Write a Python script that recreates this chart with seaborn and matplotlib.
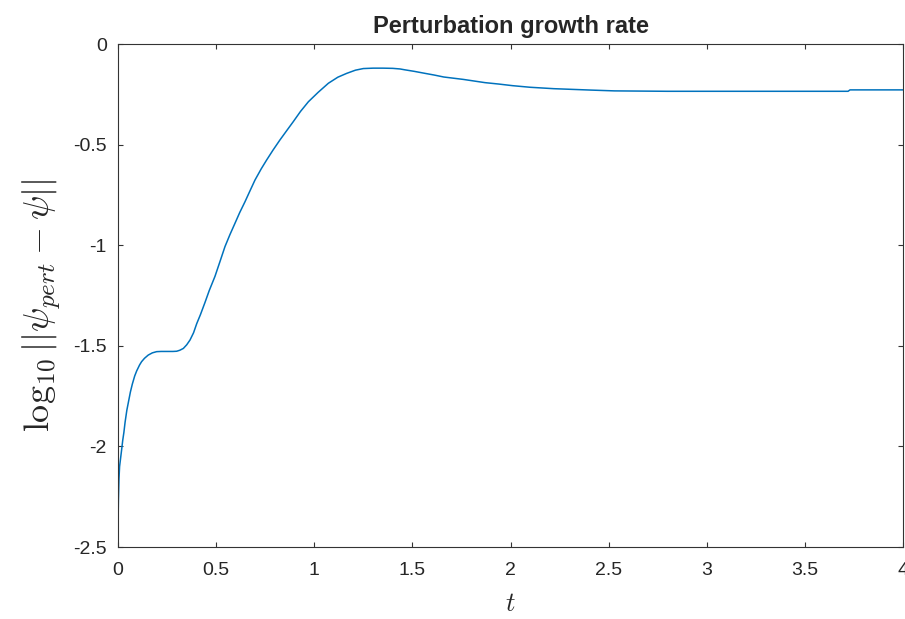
import pandas as pd
import matplotlib
matplotlib.use("Agg")
import matplotlib.pyplot as plt
import seaborn as sns

# data
t = [0.0, 0.002, 0.005, 0.008, 0.013, 0.018, 0.024, 0.03, 0.036, 0.045,
     0.053, 0.063, 0.073, 0.085, 0.095, 0.11, 0.12, 0.135, 0.154, 0.175,
     0.197, 0.22, 0.25, 0.28, 0.299, 0.315, 0.333, 0.35, 0.367, 0.385,
     0.401, 0.42, 0.443, 0.465, 0.494, 0.52, 0.545, 0.57, 0.596, 0.62,
     0.647, 0.67, 0.698, 0.73, 0.757, 0.79, 0.825, 0.86, 0.893, 0.93,
     0.97, 1.02, 1.072, 1.12, 1.165, 1.21, 1.25, 1.3, 1.35, 1.4,
     1.437, 1.46, 1.51, 1.565, 1.61, 1.66, 1.71, 1.76, 1.815, 1.87,
     1.94, 2.01, 2.1, 2.22, 2.41, 2.53, 2.8, 3.2, 3.72, 3.73, 4.0]
log_err = [-2.40, -2.27, -2.16, -2.10, -2.06, -2.02, -1.97, -1.93, -1.88, -1.82,
           -1.78, -1.73, -1.69, -1.65, -1.625, -1.595, -1.579, -1.562, -1.546, -1.535,
           -1.529, -1.528, -1.528, -1.528, -1.527, -1.522, -1.513, -1.495, -1.471, -1.435,
           -1.390, -1.345, -1.285, -1.225, -1.155, -1.08, -1.007, -0.948, -0.891, -0.838,
           -0.784, -0.735, -0.676, -0.62, -0.577, -0.527, -0.477, -0.43, -0.386, -0.335,
           -0.287, -0.24, -0.195, -0.165, -0.146, -0.13, -0.122, -0.120, -0.120, -0.121,
           -0.124, -0.128, -0.136, -0.146, -0.154, -0.164, -0.170, -0.176, -0.184, -0.192,
           -0.199, -0.207, -0.215, -0.222, -0.229, -0.233, -0.235, -0.235, -0.235, -0.228, -0.228]

x_ticks = [0, 0.5, 1, 1.5, 2, 2.5, 3, 3.5, 4]
y_ticks = [-2.5, -2, -1.5, -1, -0.5, 0]

df = pd.DataFrame({"t": t, "err": log_err})

sns.set_theme(style="ticks")
plt.rcParams["font.family"] = ["Liberation Sans", "DejaVu Sans"]
plt.rcParams["mathtext.fontset"] = "cm"
plt.rcParams["axes.unicode_minus"] = False

fig = plt.figure(figsize=(9.05, 6.19), dpi=100)
ax = fig.add_axes([0.1304, 0.1163, 0.8674, 0.8126])

sns.lineplot(data=df, x="t", y="err", color="#0072BD", linewidth=1.1, ax=ax)

ax.set_xlim(0, 4)
ax.set_ylim(-2.5, 0)
ax.set_xticks(x_ticks)
ax.set_yticks(y_ticks)
ax.set_xticklabels(["%g" % v for v in x_ticks])
ax.set_yticklabels(["%g" % v for v in y_ticks])

for s in ax.spines.values():
    s.set_visible(True)
    s.set_color("#333333")
    s.set_linewidth(0.8)
ax.tick_params(axis="both", direction="in", length=3.6, width=0.8, color="#333333",
               labelsize=14, labelcolor="#262626", top=True, right=True)
ax.tick_params(axis="x", pad=11)
ax.tick_params(axis="y", pad=8)

ax.set_title("Perturbation growth rate", fontsize=17, fontweight="bold", pad=8)
ax.set_xlabel(r"$t$", fontsize=19, labelpad=9)
ax.set_ylabel(r"$\log_{10}||\psi_{pert}-\psi||$", fontsize=26)
ax.yaxis.set_label_coords(-0.07, 0.48)

fig.savefig("out.png", dpi=100)
